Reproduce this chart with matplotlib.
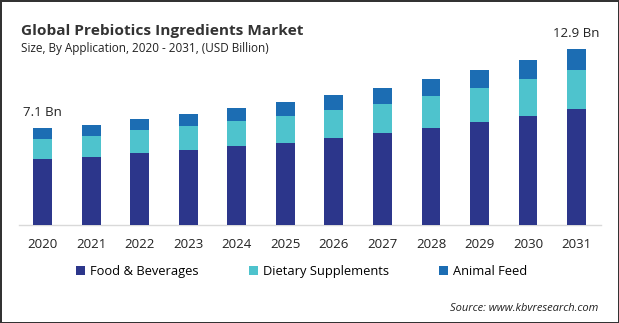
import matplotlib
matplotlib.use('Agg')
import matplotlib.pyplot as plt
from matplotlib.patches import Patch

years = ['2020', '2021', '2022', '2023', '2024', '2025',
         '2026', '2027', '2028', '2029', '2030', '2031']
food_bev = [4.85, 4.98, 5.27, 5.49, 5.78, 6.00, 6.37, 6.73, 7.10, 7.54, 7.98, 8.48]
dietary = [1.47, 1.54, 1.68, 1.76, 1.83, 1.98, 2.05, 2.12, 2.34, 2.49, 2.71, 2.85]
animal_feed = [0.78, 0.81, 0.81, 0.88, 0.95, 1.02, 1.10, 1.17, 1.24, 1.32, 1.39, 1.57]
series_names = ['Food & Beverages', 'Dietary Supplements', 'Animal Feed']
labelled = [0, 11]  # bars that get a total label

colors = ['#2C368B', '#4EC3CD', '#1C6DB3']

plt.rcParams['font.family'] = ['Open Sans', 'DejaVu Sans']

fig = plt.figure(figsize=(6.19, 3.23), dpi=100)
fig.patch.set_facecolor('white')
fig.patch.set_edgecolor('#333333')
fig.patch.set_linewidth(2)

ax = fig.add_axes([0.030, 0.3034, 0.9406, 0.571])
x = list(range(len(years)))
w = 0.39

bottom = [0.0] * len(years)
for vals, c in zip([food_bev, dietary, animal_feed], colors):
    ax.bar(x, vals, w, bottom=bottom, color=c, zorder=3)
    bottom = [b + v for b, v in zip(bottom, vals)]

for i in labelled:
    ax.text(x[i], bottom[i] + 1.15, f'{bottom[i]:.1f} Bn',
            ha='center', va='center', fontsize=9.5, color='#222222')

ax.set_xlim(-0.5, 11.5)
ax.set_ylim(0, 13.5)
ax.set_yticks([])
ax.set_xticks(x)
ax.set_xticklabels(years, fontsize=9.5, color='#222222')
ax.tick_params(axis='x', length=0, pad=9)
for s in ['top', 'right', 'left']:
    ax.spines[s].set_visible(False)
ax.spines['bottom'].set_color('#D9D9D9')
ax.spines['bottom'].set_linewidth(1)

fig.text(0.034, 0.905, 'Global Prebiotics Ingredients Market', fontsize=11.1,
         fontweight='bold', color='#333333', va='center')
fig.text(0.034, 0.851, 'Size, By Application, 2020 - 2031, (USD Billion)',
         fontsize=8.5, color='#222222', va='center')

handles = [Patch(facecolor=c) for c in colors]
fig.legend(handles, series_names, loc='center left', bbox_to_anchor=(0.122, 0.16),
           ncol=3, frameon=False, fontsize=9.3, handlelength=0.7, handleheight=0.7,
           handletextpad=0.4, columnspacing=3.9, borderpad=0, borderaxespad=0)

fig.text(0.966, 0.045, 'Source: www.kbvresearch.com', fontsize=8, style='italic',
         color='#222222', ha='right', va='center')

fig.savefig('out.png', dpi=100)
